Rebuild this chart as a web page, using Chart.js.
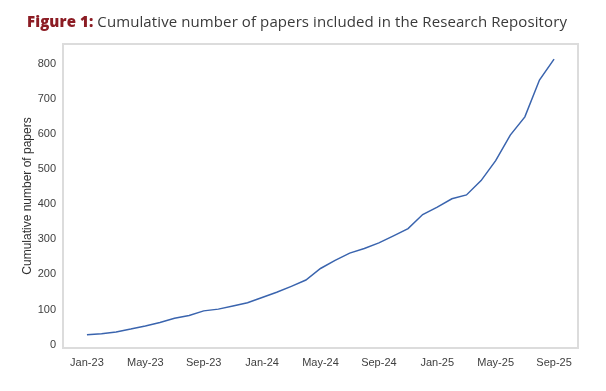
<!DOCTYPE html>
<html>
<head>
<meta charset="utf-8">
<script src="https://cdn.jsdelivr.net/npm/chart.js@4"></script>
<style>
  html, body { margin: 0; padding: 0; background: #fff; }
  #wrap { position: relative; width: 606px; height: 391px; }
  #title {
    position: absolute; left: 27px; top: 11px;
    font-family: 'Open Sans', sans-serif; font-size: 15px; color: #3a3a3a;
    white-space: nowrap; letter-spacing: 0.1px;
  }
  #title b { color: #8c1c24; font-weight: 800; }
  canvas { position: absolute; left: 0; top: 0; }
</style>
</head>
<body>
<div id="wrap">
  <canvas id="chart" width="606" height="391"></canvas>
  <div id="title"><b>Figure 1:</b> Cumulative number of papers included in the Research Repository</div>
</div>
<script>
// monthly cumulative counts, Jan-23 .. Sep-25
const months = [
  'Jan-23', 'Feb-23', 'Mar-23', 'Apr-23', 'May-23', 'Jun-23', 'Jul-23', 'Aug-23',
  'Sep-23', 'Oct-23', 'Nov-23', 'Dec-23', 'Jan-24', 'Feb-24', 'Mar-24', 'Apr-24',
  'May-24', 'Jun-24', 'Jul-24', 'Aug-24', 'Sep-24', 'Oct-24', 'Nov-24', 'Dec-24',
  'Jan-25', 'Feb-25', 'Mar-25', 'Apr-25', 'May-25', 'Jun-25', 'Jul-25', 'Aug-25',
  'Sep-25'
];
const papers = [
  28, 31, 36, 44, 53, 63, 75, 83,
  96, 101, 110, 119, 134, 149, 166, 184,
  217, 240, 261, 274, 290, 310, 331, 371,
  392, 416, 427, 468, 525, 598, 650, 755,
  815
];
const xTickIndex = [0, 4, 8, 12, 16, 20, 24, 28, 32];
const yTicks = [0, 100, 200, 300, 400, 500, 600, 700, 800];

// light grey frame around the plot area
const plotFrame = {
  id: 'plotFrame',
  beforeDatasetsDraw(chart) {
    const { ctx, chartArea: a } = chart;
    ctx.save();
    ctx.strokeStyle = '#dcdcdc';
    ctx.lineWidth = 2;
    ctx.strokeRect(a.left, a.top, a.right - a.left, a.bottom - a.top);
    ctx.restore();
  }
};

const tickFont = { family: "'Liberation Sans', Arial, sans-serif", size: 11 };

new Chart(document.getElementById('chart'), {
  type: 'line',
  data: {
    datasets: [{
      data: papers.map((v, i) => ({ x: i, y: v })),
      borderColor: '#3a64ae',
      borderWidth: 1.5,
      pointRadius: 0,
      tension: 0,
      fill: false
    }]
  },
  options: {
    responsive: false,
    animation: false,
    layout: { padding: { top: 44, right: 28, left: 20, bottom: 0 } },
    plugins: { legend: { display: false }, tooltip: { enabled: false } },
    scales: {
      x: {
        type: 'linear',
        min: -1.64,
        max: 33.64,
        grid: { display: false, drawTicks: false },
        border: { display: false },
        afterBuildTicks: s => { s.ticks = xTickIndex.map(v => ({ value: v })); },
        afterFit: s => { s.height = 43; },
        ticks: {
          color: '#404040',
          font: tickFont,
          padding: 8,
          maxRotation: 0,
          autoSkip: false,
          callback: v => months[v]
        }
      },
      y: {
        min: -10,
        max: 858,
        grid: { display: false, drawTicks: false },
        border: { display: false },
        afterBuildTicks: s => { s.ticks = yTicks.map(v => ({ value: v })); },
        afterFit: s => { s.width = 43; },
        ticks: { color: '#404040', font: tickFont, padding: 7 },
        title: {
          display: true,
          text: 'Cumulative number of papers',
          color: '#303030',
          font: { family: "'Liberation Sans', Arial, sans-serif", size: 12 },
          padding: { top: 0, bottom: 0 }
        }
      }
    }
  },
  plugins: [plotFrame]
});
</script>
</body>
</html>
